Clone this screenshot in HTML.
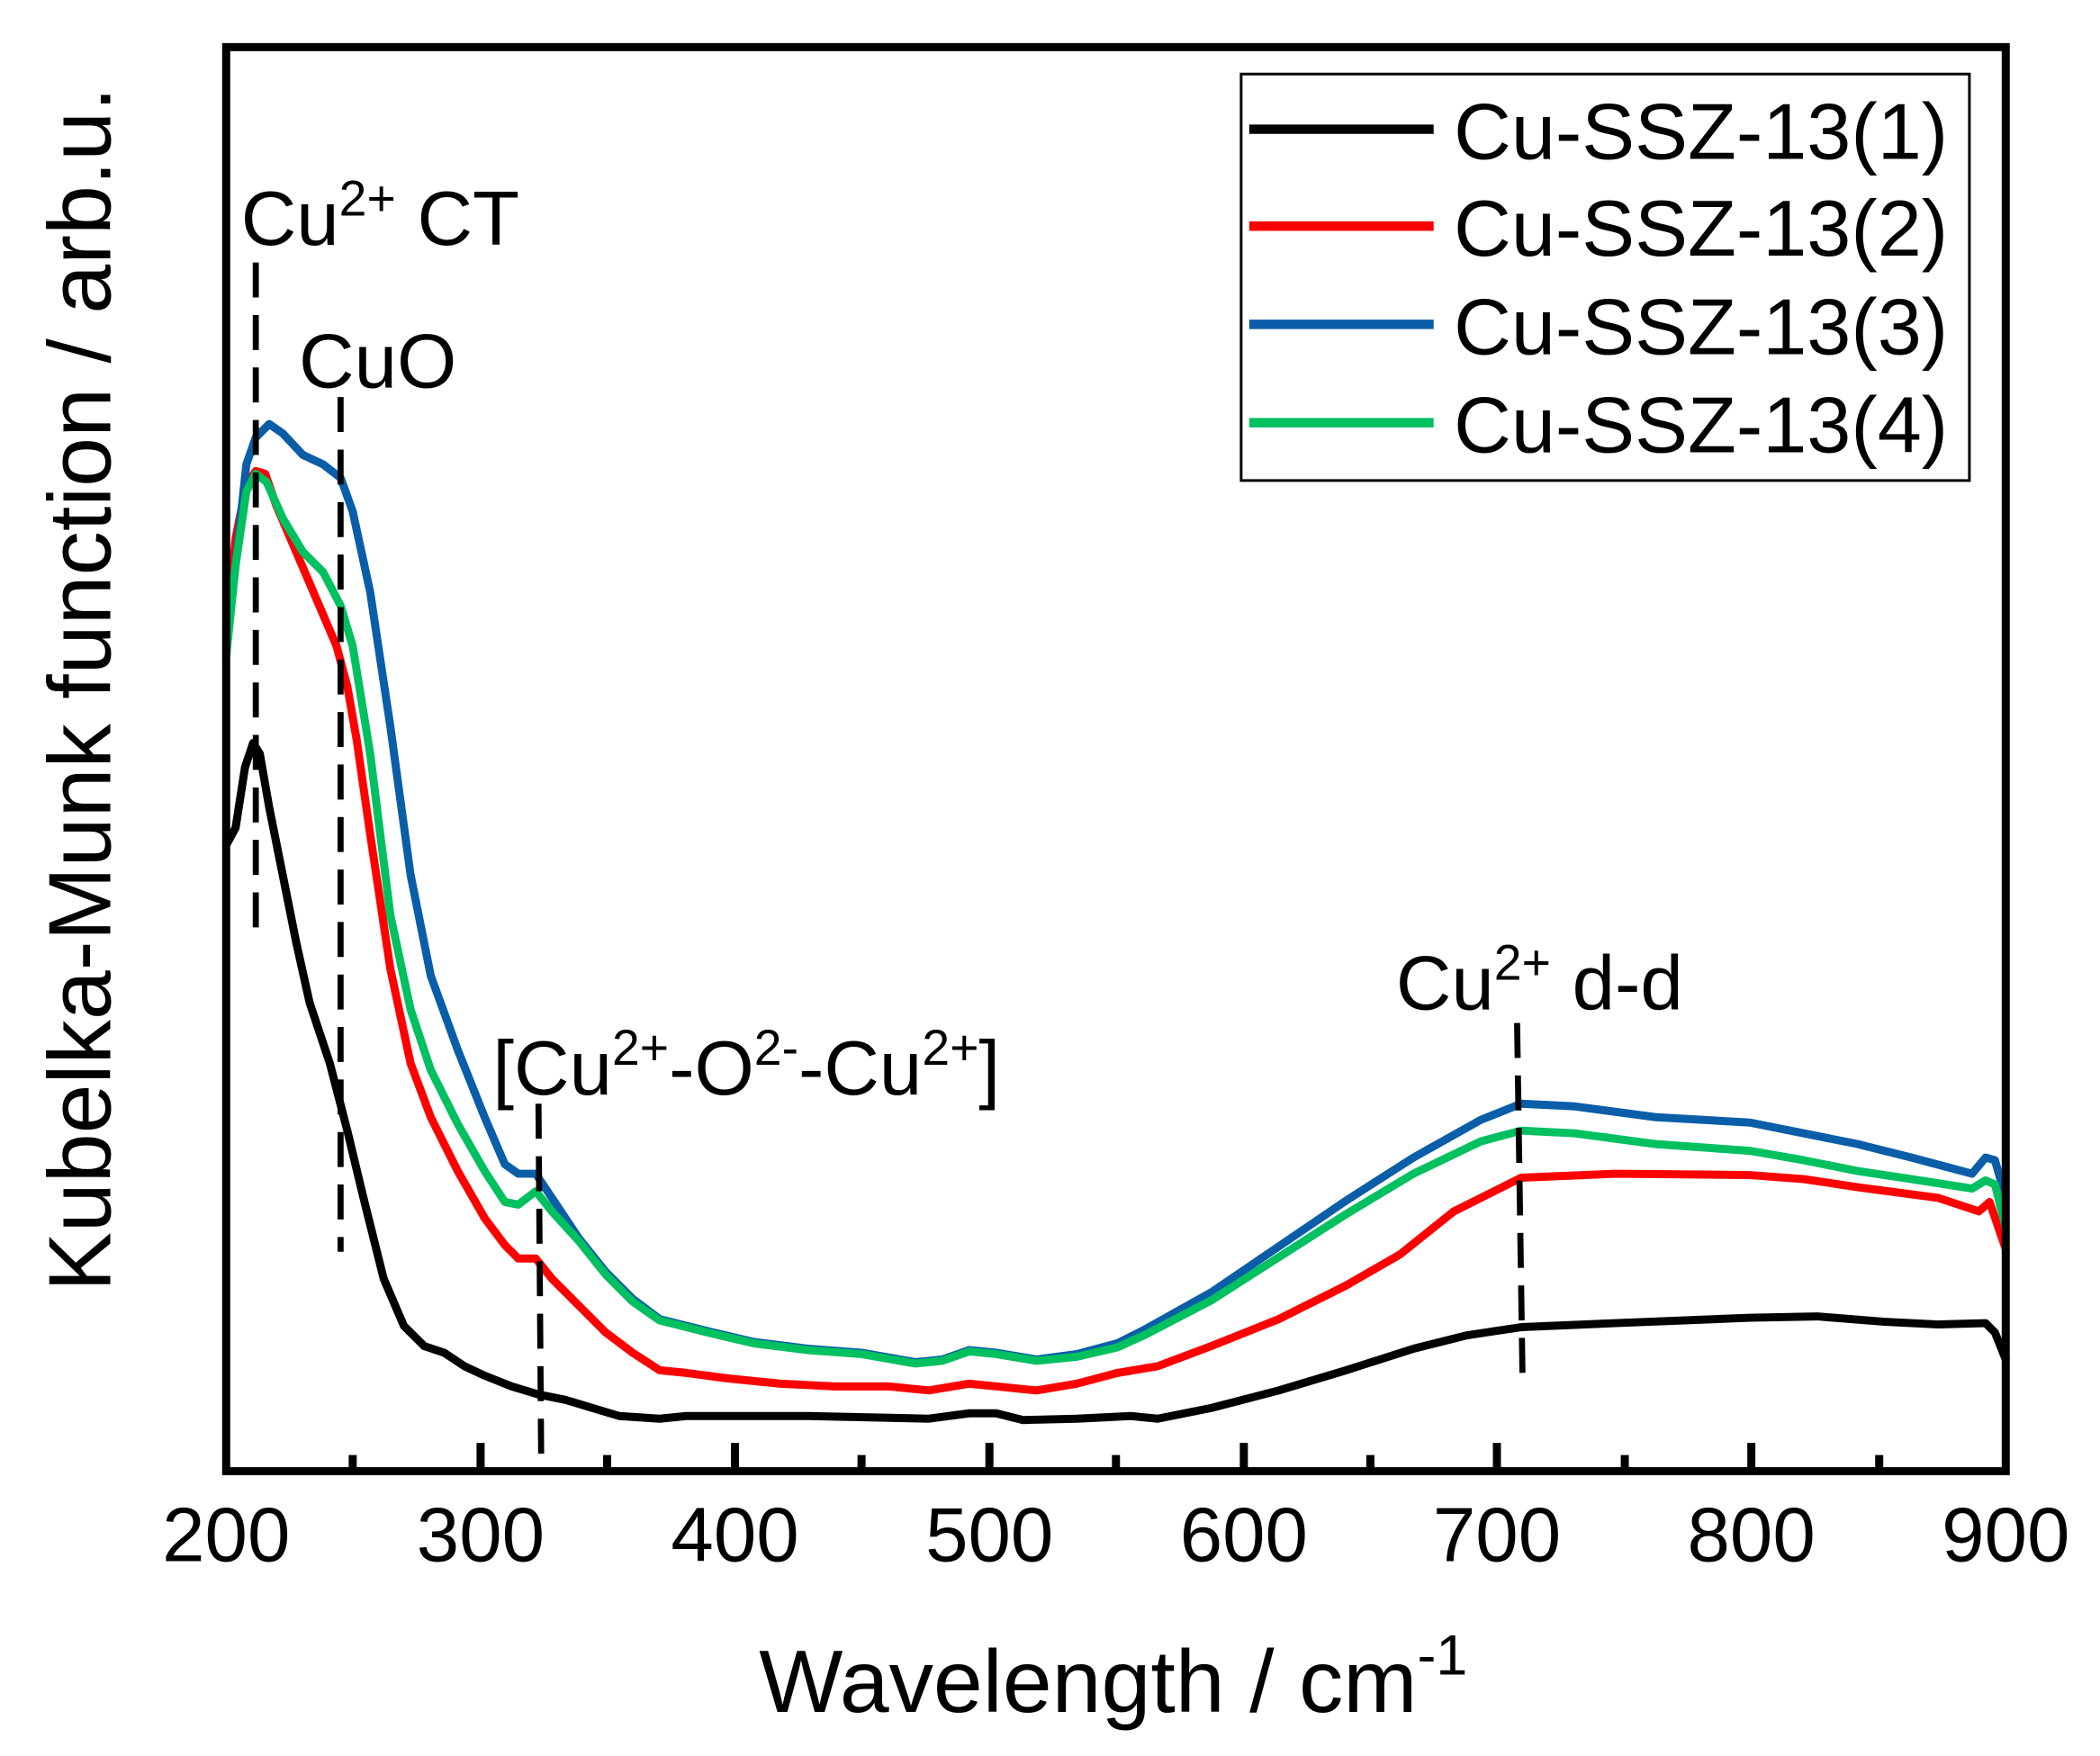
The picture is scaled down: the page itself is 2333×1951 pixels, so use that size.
<!DOCTYPE html>
<html><head><meta charset="utf-8"><style>html,body{margin:0;padding:0;background:#fff}svg{display:block}text{font-family:"Liberation Sans",Arial,sans-serif;fill:#000}</style></head>
<body>
<svg width="2333" height="1951" viewBox="0 0 1560 1304.6" xmlns="http://www.w3.org/2000/svg">
<rect width="1560" height="1305" fill="#fff"/>
<g fill="none" stroke-linejoin="round" stroke-linecap="round" stroke-width="6">
<polyline stroke="#000" points="168,628 175,615 182,570 188,552 193,560 200,600 210,650 220,700 230,745 245,790 258,840 270,890 285,950 300,985 315,1000 330,1005 345,1015 360,1022 380,1030 400,1036 420,1040 440,1046 460,1052 490,1054 510,1052 600,1052 690,1054 720,1050 740,1050 760,1055 800,1054 840,1052 860,1054 900,1046 950,1033 1000,1018 1050,1002 1090,992 1130,986 1200,983 1300,979 1350,978 1400,982 1440,984 1475,983 1482,990 1490,1010"/>
<polyline stroke="#ff0000" points="168,470 175,400 183,360 190,350 197,352 205,375 220,410 235,445 250,480 258,510 265,550 275,620 290,720 305,790 320,830 340,870 360,905 375,925 385,935 398,935 410,950 430,970 450,990 470,1005 490,1018 510,1020 540,1024 580,1028 620,1030 660,1030 690,1033 720,1028 740,1030 770,1033 800,1028 830,1020 860,1015 900,1000 950,980 1000,955 1040,932 1080,900 1130,875 1200,872 1300,873 1340,876 1380,882 1440,890 1470,900 1478,893 1490,928"/>
<polyline stroke="#0a5ea8" points="168,480 175,420 183,345 190,325 200,315 210,322 225,338 240,345 253,355 262,380 275,440 290,540 305,650 320,725 340,780 360,830 375,865 385,872 398,872 410,890 430,920 450,945 470,965 490,980 510,985 530,990 560,997 600,1002 640,1005 680,1012 700,1010 720,1003 740,1005 770,1010 800,1006 830,998 850,988 900,960 950,926 1000,892 1050,860 1100,832 1130,820 1170,822 1230,830 1300,834 1340,842 1380,850 1420,860 1465,872 1475,860 1482,862 1490,890"/>
<polyline stroke="#00c060" points="168,488 175,420 183,365 190,352 198,358 210,385 225,410 240,425 253,450 262,480 275,560 290,680 305,750 320,795 340,835 360,870 375,893 385,895 398,885 410,900 430,922 450,947 470,967 490,981 510,986 530,991 560,998 600,1003 640,1006 680,1013 700,1011 720,1004 740,1006 770,1011 800,1008 830,1001 850,992 900,966 950,934 1000,902 1050,872 1100,848 1130,840 1170,842 1230,850 1300,855 1340,862 1380,870 1420,876 1465,883 1475,877 1482,880 1490,912"/>
</g>
<g stroke="#000" stroke-width="4.5" stroke-dasharray="26,13" fill="none">
<line x1="190" y1="195" x2="190" y2="700"/>
<line x1="253" y1="295" x2="253" y2="930"/>
<line x1="400" y1="820" x2="402" y2="1082"/>
<line x1="1127" y1="760" x2="1131" y2="1022"/>
</g>
<rect x="168" y="35" width="1322" height="1058" fill="none" stroke="#000" stroke-width="6"/>
<g stroke="#000" stroke-width="6">
<line x1="357" y1="1093" x2="357" y2="1072"/><line x1="546" y1="1093" x2="546" y2="1072"/><line x1="735" y1="1093" x2="735" y2="1072"/><line x1="924" y1="1093" x2="924" y2="1072"/><line x1="1112" y1="1093" x2="1112" y2="1072"/><line x1="1301" y1="1093" x2="1301" y2="1072"/>
<line x1="262" y1="1093" x2="262" y2="1081"/><line x1="451" y1="1093" x2="451" y2="1081"/><line x1="640" y1="1093" x2="640" y2="1081"/><line x1="829" y1="1093" x2="829" y2="1081"/><line x1="1018" y1="1093" x2="1018" y2="1081"/><line x1="1207" y1="1093" x2="1207" y2="1081"/><line x1="1396" y1="1093" x2="1396" y2="1081"/>
</g>
<g font-size="57" text-anchor="middle">
<text x="168" y="1160">200</text><text x="357" y="1160">300</text><text x="546" y="1160">400</text><text x="735" y="1160">500</text><text x="924" y="1160">600</text><text x="1112" y="1160">700</text><text x="1301" y="1160">800</text><text x="1490" y="1160">900</text>
</g>
<text x="827" y="1272" font-size="66" text-anchor="middle">Wavelength / cm<tspan font-size="42" dy="-28">-1</tspan></text>
<text transform="translate(82,512) rotate(-90)" font-size="66" text-anchor="middle">Kubelka-Munk function / arb.u.</text>
<rect x="922" y="55" width="541" height="302" fill="#fff" stroke="#000" stroke-width="2"/>
<g stroke-width="7">
<line x1="928" y1="96" x2="1065" y2="96" stroke="#000"/>
<line x1="928" y1="168" x2="1065" y2="168" stroke="#ff0000"/>
<line x1="928" y1="241" x2="1065" y2="241" stroke="#0a5ea8"/>
<line x1="928" y1="314" x2="1065" y2="314" stroke="#00c060"/>
</g>
<g font-size="59">
<text x="1080" y="118">Cu-SSZ-13(1)</text>
<text x="1080" y="190">Cu-SSZ-13(2)</text>
<text x="1080" y="263">Cu-SSZ-13(3)</text>
<text x="1080" y="336">Cu-SSZ-13(4)</text>
</g>
<g font-size="57">
<text x="179" y="182">Cu<tspan font-size="37" dy="-22">2+</tspan><tspan dy="22"> CT</tspan></text>
<text x="222" y="288">CuO</text>
<text x="366" y="813">[Cu<tspan font-size="37" dy="-22">2+</tspan><tspan dy="22">-O</tspan><tspan font-size="37" dy="-22">2-</tspan><tspan dy="22">-Cu</tspan><tspan font-size="37" dy="-22">2+</tspan><tspan dy="22">]</tspan></text>
<text x="1037" y="750">Cu<tspan font-size="37" dy="-22">2+</tspan><tspan dy="22"> d-d</tspan></text>
</g>
</svg>
</body></html>
